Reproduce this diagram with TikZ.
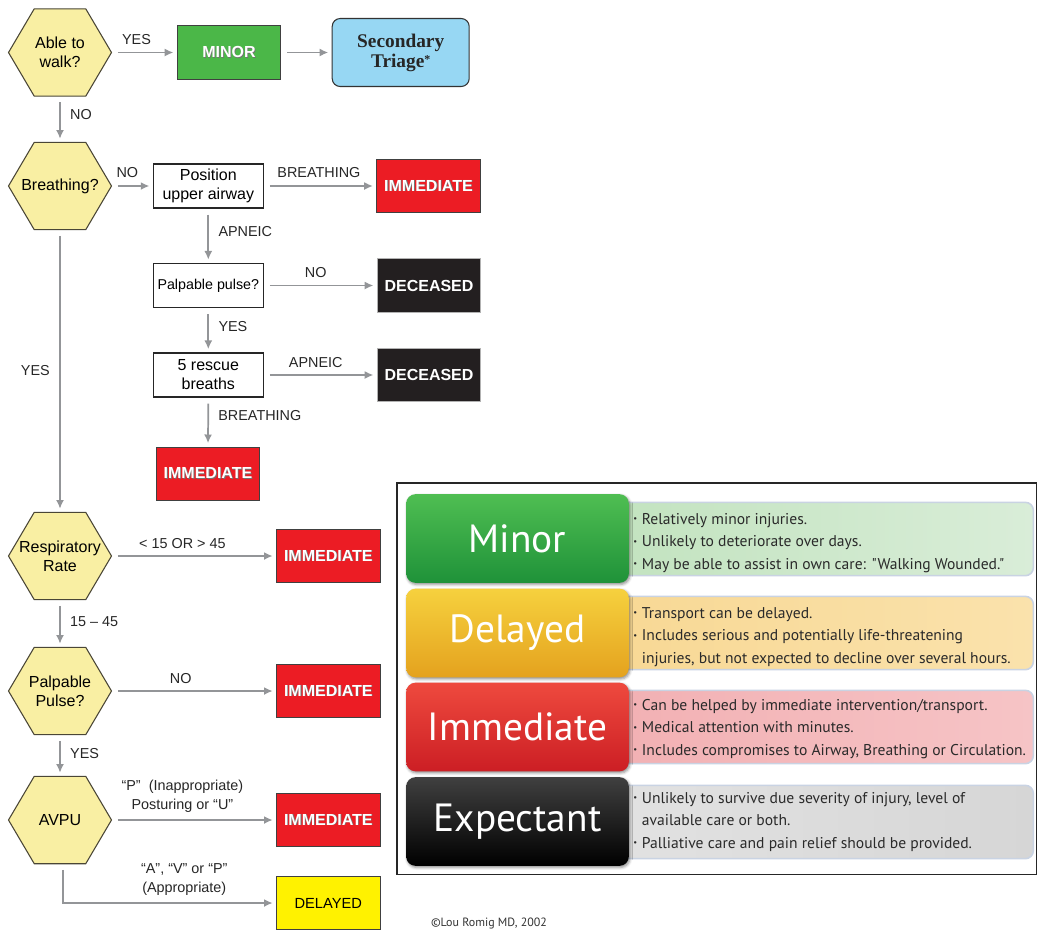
\documentclass[tikz,border=0pt]{standalone}
\usepackage{fontspec}
\usepackage{graphicx}
\setmainfont{Liberation Sans}
\newfontfamily\legendfont{PT Sans}
\newfontfamily\titleserif{Liberation Serif}
\usetikzlibrary{arrows.meta,shadows.blur}

\definecolor{hexfill}{HTML}{F9EFA3}
\definecolor{hexline}{HTML}{4A4636}
\definecolor{arrowgray}{HTML}{939598}
\definecolor{minorgreen}{HTML}{4BB748}
\definecolor{immred}{HTML}{EC1C24}
\definecolor{decblack}{HTML}{231F20}
\definecolor{secblue}{HTML}{97D7F3}
\definecolor{delyellow}{HTML}{FFF200}
\definecolor{desctext}{HTML}{2A2A2A}
\definecolor{descedge}{HTML}{C9D3E3}
% legend category colours
\definecolor{grtop}{HTML}{4FBE52}
\definecolor{grmid}{HTML}{2EA845}
\definecolor{grbot}{HTML}{1F9239}
\definecolor{yetop}{HTML}{F6D13E}
\definecolor{yemid}{HTML}{F0B528}
\definecolor{yebot}{HTML}{E4A21E}
\definecolor{retop}{HTML}{EE4A3E}
\definecolor{remid}{HTML}{E3272A}
\definecolor{rebot}{HTML}{CC1E24}
% legend description fills
\definecolor{grl}{HTML}{C2E3BF}
\definecolor{grr}{HTML}{D9EDD8}
\definecolor{yel}{HTML}{F8D894}
\definecolor{yer}{HTML}{FAE2AC}
\definecolor{rel}{HTML}{F2B0B3}
\definecolor{rer}{HTML}{F6C4C6}
\definecolor{gyl}{HTML}{E2E2E2}
\definecolor{gym}{HTML}{A9A9A9}
\definecolor{gyr}{HTML}{D6D6D6}

% white bold label with a soft dark drop behind it
\newcommand\shadowed[1]{\leavevmode\rlap{\kern0.6pt\raisebox{-0.6pt}{\color{black!55}#1}}{\color{white}#1}}
% small bullet used in the legend descriptions
\newcommand\bul{\makebox[6.5pt][l]{\raisebox{0.35ex}{\scalebox{0.55}{•}}}}
\newcommand\bulgap{\hspace*{6.5pt}}
% decision hexagon: outline first, then the named text node on top
\newcommand\hexnode[3]{%
  \filldraw[hexshape] (#2) ++(-51.5,0) -- ++(25.75,-43.7) -- ++(51.5,0)
    -- ++(25.75,43.7) -- ++(-25.75,43.7) -- ++(-51.5,0) -- cycle;
  \node[hexs] (#1) at (#2) {#3};}

\begin{document}
\begin{tikzpicture}[x=0.75pt,y=-0.75pt,
  hexshape/.style={draw=hexline, fill=hexfill, line width=0.8pt, line join=miter},
  hexs/.style={minimum width=77.25pt, minimum height=65.5pt, inner sep=0pt,
    align=center, font=\fontsize{12}{14.5}\selectfont},
  qbox/.style={draw=black!85, fill=white, line width=0.8pt, minimum width=82.5pt,
    minimum height=33pt, inner sep=1pt, align=center, font=\fontsize{12}{14.2}\selectfont},
  outbox/.style={draw=black!75, line width=0.8pt, minimum width=77.6pt,
    minimum height=40pt, inner sep=0pt, font=\fontsize{12}{14}\selectfont\bfseries},
  immbox/.style={outbox, fill=immred},
  decbox/.style={outbox, fill=decblack, draw=gray!60},
  arr/.style={draw=arrowgray, line width=1.3pt, -{Latex[length=6.5pt,width=6pt]},
    shorten <=4.5pt, shorten >=2.5pt},
  lbl/.style={font=\fontsize{10.8}{13}\selectfont, text=black!85, inner sep=2pt, align=center},
  catbox/.style={rounded corners=7pt, minimum width=167pt, minimum height=66.5pt,
    inner sep=0pt, text=white, font=\legendfont\fontsize{29.5}{31}\selectfont,
    blur shadow={shadow xshift=0.8pt, shadow yshift=-1.2pt, shadow blur radius=2pt, shadow opacity=45}},
  descbox/.style={rounded corners=6pt, draw=descedge, line width=1.2pt,
    minimum width=320pt, minimum height=55pt, inner sep=0pt},
  desc/.style={anchor=west, align=left, inner sep=0pt, text=desctext,
    font=\legendfont\fontsize{11.7}{16.9}\selectfont}
]
\useasboundingbox (0,0) rectangle (1038,929);

% ---------- decision hexagons ----------
\hexnode{walk}{60,52.5}{Able to\\walk?}
\hexnode{breath}{60,186}{Breathing?}
\hexnode{rate}{60,556}{Respiratory\\Rate}
\hexnode{pulse}{60,691}{Palpable\\Pulse?}
\hexnode{avpu}{60,820}{AVPU}

% ---------- airway branch ----------
\node[qbox] (airway) at (208.3,186) {Position\\upper airway};
\node[qbox, font=\fontsize{10.7}{13}\selectfont] (palp) at (208.3,285.5) {Palpable pulse?};
\node[qbox] (rescue) at (208.3,375) {5 rescue\\breaths};

% ---------- outcomes ----------
\node[outbox, fill=minorgreen] (minor) at (229,52.5) {\shadowed{MINOR}};
\node[draw=black!80, fill=secblue, rounded corners=6pt, line width=0.8pt,
  minimum width=102.75pt, minimum height=51pt, align=center,
  font=\titleserif\fontsize{14.5}{15}\selectfont\bfseries, text=black!85]
  (second) at (400.7,52.5) {Secondary\\Triage\raisebox{0.4ex}{\fontsize{9}{9}\selectfont*}};
\node[immbox] (imm1) at (428.5,186) {\shadowed{IMMEDIATE}};
\node[decbox] (dec1) at (429,285.5) {\color{white}DECEASED};
\node[decbox] (dec2) at (429,375) {\color{white}DECEASED};
\node[immbox] (imm2) at (208,473.7) {\shadowed{IMMEDIATE}};
\node[immbox] (imm3) at (328.3,556) {\shadowed{IMMEDIATE}};
\node[immbox] (imm4) at (328.3,691) {\shadowed{IMMEDIATE}};
\node[immbox] (imm5) at (328.3,820) {\shadowed{IMMEDIATE}};
\node[outbox, fill=delyellow, font=\fontsize{11}{13}\selectfont] (delayed) at (328.3,903) {DELAYED};

% ---------- connectors ----------
\draw[arr] (walk.east) -- node[lbl, above=3.5pt, pos=0.38] {YES} (minor.west);
\draw[arr] (minor.east) -- (second.west);
\draw[arr] (walk.south) -- node[lbl, right=5pt, pos=0.4] {NO} (breath.north);
\draw[arr] (breath.east) -- node[lbl, above=3.5pt, pos=0.38] {NO} (airway.west);
\draw[arr] (airway.east) -- node[lbl, above=3.5pt, pos=0.49] {BREATHING} (imm1.west);
\draw[arr] (airway.south) -- node[lbl, right=5pt, pos=0.43] {APNEIC} (palp.north);
\draw[arr] (palp.east) -- node[lbl, above=3pt, pos=0.46] {NO} (dec1.west);
\draw[arr] (palp.south) -- node[lbl, right=5pt, pos=0.41] {YES} (rescue.north);
\draw[arr] (rescue.east) -- node[lbl, above=3pt, pos=0.46] {APNEIC} (dec2.west);
\draw[arr] (rescue.south) -- node[lbl, right=5pt, pos=0.37] {BREATHING} (imm2.north);
\draw[arr] (breath.south) -- node[lbl, left=5pt, pos=0.5] {YES} (rate.north);
\draw[arr] (rate.east) -- node[lbl, above=3pt, pos=0.43] {< 15 OR > 45} (imm3.west);
\draw[arr] (rate.south) -- node[lbl, right=5pt, pos=0.45] {15 – 45} (pulse.north);
\draw[arr] (pulse.east) -- node[lbl, above=3pt, pos=0.42] {NO} (imm4.west);
\draw[arr] (pulse.south) -- node[lbl, right=5pt, pos=0.45] {YES} (avpu.north);
\draw[arr] (avpu.east) -- node[lbl, above=3pt, pos=0.43, font=\fontsize{10.8}{14}\selectfont]
  {“P”\ \ (Inappropriate)\\Posturing or “U”} (imm5.west);
\draw[arr] ([xshift=2pt]avpu.south) |- node[lbl, above=3pt, pos=0.785, font=\fontsize{10.8}{14}\selectfont]
  {“A”, “V” or “P”\\(Appropriate)} (delayed.west);

% ---------- legend panel ----------
\draw[black!85, line width=1.3pt] (397,483) rectangle (1036.5,874.5);

\node[descbox, left color=grl, right color=grr] (minordesc) at (820,539) {};
\node[descbox, left color=yel, right color=yer] (delaydesc) at (820,633) {};
\node[descbox, left color=rel, right color=rer] (immdesc) at (820,727) {};
\node[descbox, left color=gyl, middle color=gym, right color=gyr] (expdesc) at (820,822) {};

\node[catbox, top color=grtop, middle color=grmid, bottom color=grbot] (minorcat) at (517.5,538.5) {Minor};
\node[catbox, top color=yetop, middle color=yemid, bottom color=yebot] (delaycat) at (517.5,633) {Delayed};
\node[catbox, top color=retop, middle color=remid, bottom color=rebot] (immcat) at (517.5,727) {Immediate};
\node[catbox, top color=black!75, middle color=black!92, bottom color=black] (expcat) at (517.5,821.5) {Expectant};

\node[desc] (minortext) at (633,543) {\bul Relatively minor injuries.\\\bul Unlikely to deteriorate over days.\\\bul May be able to assist in own care: "Walking Wounded."};
\node[desc] (delaytext) at (633,637) {\bul Transport can be delayed.\\\bul Includes serious and potentially life-threatening\\\bulgap injuries, but not expected to decline over several hours.};
\node[desc] (immtext) at (633,729) {\bul Can be helped by immediate intervention/transport.\\\bul Medical attention with minutes.\\\bul Includes compromises to Airway, Breathing or Circulation.};
\node[desc] (exptext) at (633,822) {\bul Unlikely to survive due severity of injury, level of\\\bulgap available care or both.\\\bul Palliative care and pain relief should be provided.};

% ---------- credit line ----------
\node[anchor=base, inner sep=0pt, text=black!80, font=\legendfont\fontsize{9}{11}\selectfont] (credit) at (489,926) {©Lou Romig MD, 2002};
\end{tikzpicture}
\end{document}
